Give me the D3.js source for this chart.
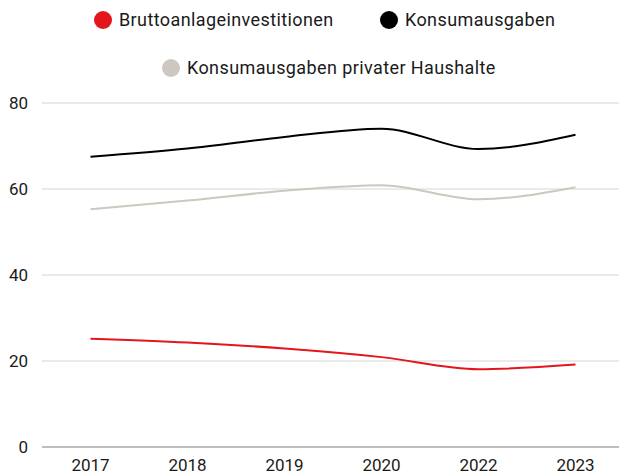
<!DOCTYPE html>
<html>
<head>
<meta charset="utf-8">
<script src="https://cdn.jsdelivr.net/npm/d3@7"></script>
<style>
  body { margin: 0; background: #fff; }
  text { font-family: Roboto, "Liberation Sans", sans-serif; fill: #1a1a1a; }
</style>
</head>
<body>
<svg id="chart" width="619" height="474"></svg>
<script>
var years = ['2017', '2018', '2019', '2020', '2022', '2023'];
var brutto = [25.2, 24.3, 22.9, 20.9, 18.1, 19.2];
var konsum = [67.5, 69.4, 72.1, 74.0, 69.3, 72.6];
var privat = [55.3, 57.3, 59.6, 60.9, 57.6, 60.4];
var yTicks = [0, 20, 40, 60, 80];

var series = [
  {name: 'Bruttoanlageinvestitionen', values: brutto, color: '#e3161c'},
  {name: 'Konsumausgaben', values: konsum, color: '#000000'},
  {name: 'Konsumausgaben privater Haushalte', values: privat, color: '#cdc8bf'}
];

var svg = d3.select('#chart'),
    margin = {top: 103, right: 0, bottom: 27, left: 42},
    width = +svg.attr('width') - margin.left - margin.right,
    height = +svg.attr('height') - margin.top - margin.bottom;

var x = d3.scalePoint().domain(years).range([0, 582]).padding(0.5),
    y = d3.scaleLinear().domain([0, 80]).range([height, 0]);

var g = svg.append('g')
  .attr('transform', 'translate(' + margin.left + ',' + margin.top + ')');

// gridlines
g.selectAll('.grid')
  .data(yTicks)
  .enter()
  .append('line')
  .attr('x1', 0)
  .attr('x2', width)
  .attr('y1', function(d) { return y(d); })
  .attr('y2', function(d) { return y(d); })
  .style('stroke', function(d) { return d === 0 ? '#a8a8a8' : '#d6d6d6'; })
  .style('stroke-width', function(d) { return d === 0 ? 1.5 : 1; });

// y labels
g.selectAll('.ylab')
  .data(yTicks)
  .enter()
  .append('text')
  .attr('x', -14)
  .attr('y', function(d) { return y(d); })
  .attr('dy', '0.35em')
  .attr('text-anchor', 'end')
  .style('font-size', '17px')
  .text(function(d) { return d; });

// x labels
g.selectAll('.xlab')
  .data(years)
  .enter()
  .append('text')
  .attr('x', function(d) { return x(d); })
  .attr('y', height + 18)
  .attr('dy', '0.35em')
  .attr('text-anchor', 'middle')
  .style('font-size', '17px')
  .text(function(d) { return d; });

var line = d3.line()
  .x(function(d, i) { return x(years[i]); })
  .y(function(d) { return y(d); })
  .curve(d3.curveMonotoneX);

g.selectAll('.line')
  .data(series)
  .enter()
  .append('path')
  .attr('d', function(d) { return line(d.values); })
  .style('fill', 'none')
  .style('stroke', function(d) { return d.color; })
  .style('stroke-width', 2);

// legend
var legendPos = [
  {cx: 103, cy: 20},
  {cx: 389, cy: 20},
  {cx: 171, cy: 68}
];
var legend = svg.selectAll('.legend')
  .data(series)
  .enter()
  .append('g')
  .attr('transform', function(d, i) { return 'translate(' + legendPos[i].cx + ',' + legendPos[i].cy + ')'; });

legend.append('circle')
  .attr('r', 9)
  .style('fill', function(d) { return d.color; });

legend.append('text')
  .attr('x', 16)
  .attr('dy', '0.35em')
  .style('font-size', '18px')
  .style('letter-spacing', '0.4px')
  .text(function(d) { return d.name; });
</script>
</body>
</html>
